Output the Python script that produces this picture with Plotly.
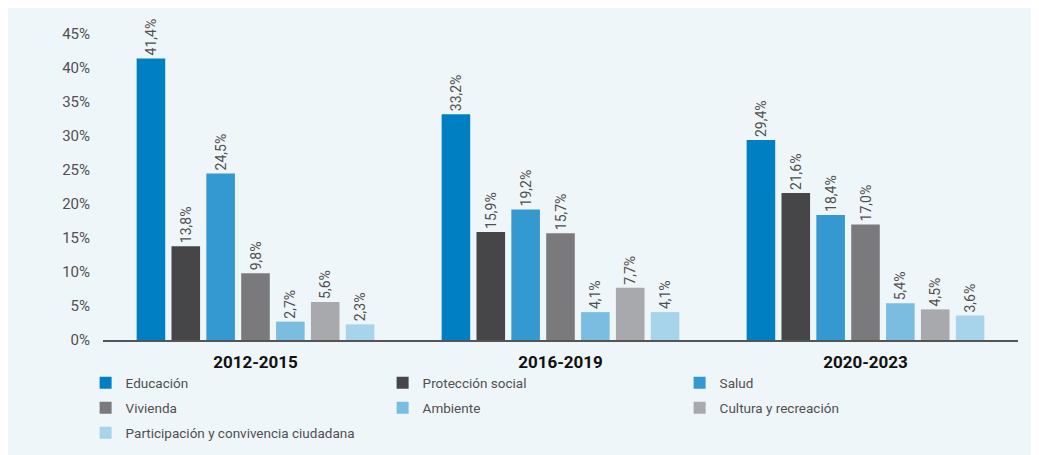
import plotly.graph_objects as go

periods = ["2012-2015", "2016-2019", "2020-2023"]
series_names = ["Educación", "Protección social", "Salud", "Vivienda", "Ambiente",
                "Cultura y recreación", "Participación y convivencia ciudadana"]
educacion = [41.4, 33.2, 29.4]
proteccion = [13.8, 15.9, 21.6]
salud = [24.5, 19.2, 18.4]
vivienda = [9.8, 15.7, 17.0]
ambiente = [2.7, 4.1, 5.4]
cultura = [5.6, 7.7, 4.5]
participacion = [2.3, 4.1, 3.6]
y_ticks = [0, 5, 10, 15, 20, 25, 30, 35, 40, 45]

colors = ["#0080C3", "#464648", "#3399D0", "#7A7A7D", "#7BBDE0", "#A8A9AC", "#A7D3EB"]
values = [educacion, proteccion, salud, vivienda, ambiente, cultura, participacion]
legend_rows = ["legend", "legend", "legend", "legend2", "legend2", "legend2", "legend3"]

FONT = "Roboto, sans-serif"
TXT = "#505050"

fig = go.Figure()
for name, vals, col, lg in zip(series_names, values, colors, legend_rows):
    fig.add_trace(go.Bar(
        x=periods, y=vals, name=name, marker_color=col,
        marker_line_width=0, legend=lg,
        text=[f"{v:.1f}%".replace(".", ",") for v in vals],
        textposition="outside", textangle=-90, constraintext="none",
        textfont=dict(family=FONT, size=14, color=TXT),
        cliponaxis=False,
    ))

plot_h = 306
plot_bottom = 332


def leg(center_px):
    return dict(orientation="h", x=-0.019, xanchor="left",
                y=(plot_bottom - center_px) / plot_h, yanchor="middle",
                entrywidth=252, entrywidthmode="pixels",
                font=dict(family=FONT, size=13.5, color=TXT),
                bgcolor="rgba(0,0,0,0)", itemwidth=30)


fig.update_layout(
    width=1031, height=447,
    margin=dict(l=95, r=21, t=26, b=115, autoexpand=False),
    paper_bgcolor="#EFF6FA", plot_bgcolor="rgba(0,0,0,0)",
    barmode="group", bargap=0.2, bargroupgap=0.18,
    font=dict(family=FONT, color=TXT),
    showlegend=True,
    legend=leg(375), legend2=leg(400), legend3=leg(425),
    xaxis=dict(showline=True, linecolor="#555555", linewidth=1.5, ticks="",
               tickfont=dict(family=FONT, size=17, color="#111111", weight="bold"),
               ticklabelstandoff=6, showgrid=False, automargin=False),
    yaxis=dict(range=[0, 45], tickvals=y_ticks, ticktext=[f"{t}%" for t in y_ticks],
               showgrid=False, zeroline=False, showline=False, automargin=False,
               tickfont=dict(family=FONT, size=15, color=TXT), ticklabelstandoff=12),
)

fig.write_html("out.html")
